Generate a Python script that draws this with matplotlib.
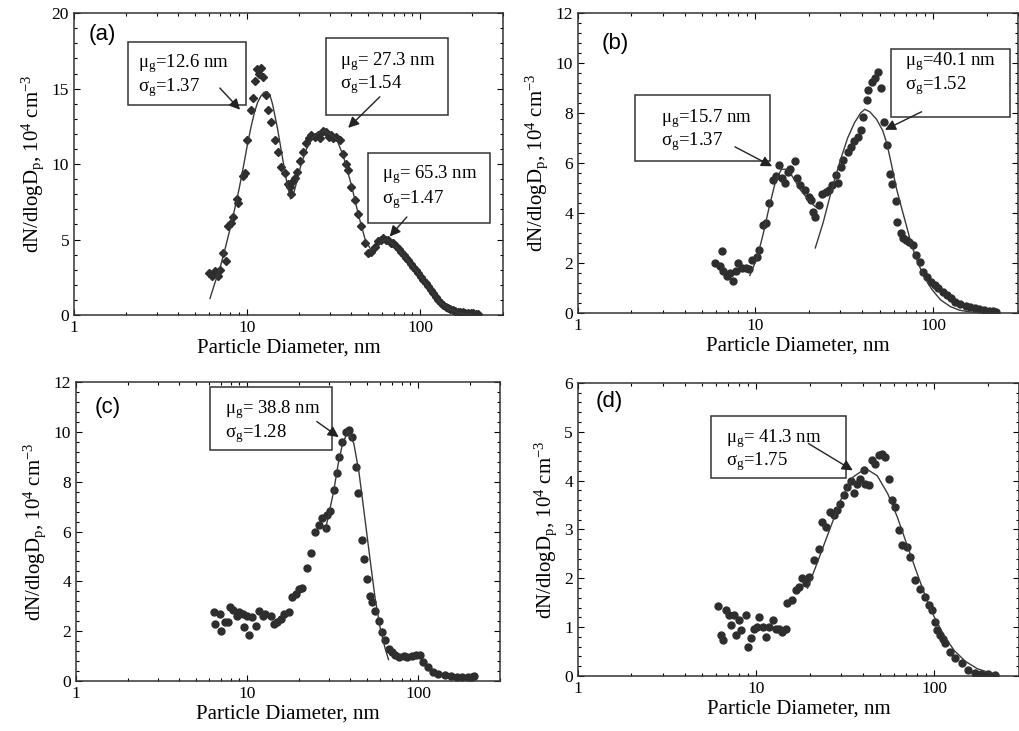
import numpy as np
import matplotlib.pyplot as plt
from matplotlib.patches import Rectangle
from matplotlib.ticker import AutoMinorLocator, LogLocator, NullFormatter

plt.rcParams['font.family'] = ['Liberation Serif', 'DejaVu Serif']
plt.rcParams['mathtext.fontset'] = 'custom'
plt.rcParams['mathtext.rm'] = 'Liberation Serif'
plt.rcParams['mathtext.it'] = 'Liberation Serif:italic'

# ---- panel (a): measured points and three-mode fit ----
a_x = [6.0, 6.3, 6.5, 6.8, 7.0, 7.3, 7.5, 7.8, 8.1, 8.3, 8.7, 8.9, 9.4, 9.7, 10.0,
       10.5, 10.8, 11.1, 11.4, 11.7, 12.0, 12.4, 12.8, 13.2, 13.8, 14.4, 15.0, 15.7,
       16.5, 17.2, 17.7, 18.0, 18.4, 19.0, 19.5, 20.2, 20.9, 21.9, 22.8, 23.5, 24.5,
       25.5, 26.5, 27.5, 28.5, 29.5, 30.5, 31.5, 32.7, 34.2, 35.8, 37.0, 38.2, 40.0,
       41.7, 43.5, 45.6, 47.7, 49.9, 52.2, 54.6, 57.0, 59.0, 61.0, 63.0, 65.3, 67.5,
       69.9, 72.3, 74.8, 77.4, 80.0, 82.5, 85.0, 88.0, 90.9, 94.0, 97.0, 100.5, 104,
       107.5, 111, 115, 119, 123, 127, 131, 135, 140, 144, 149, 154, 159, 165, 170,
       176, 182, 188, 195, 202, 209, 216]
a_y = [2.8, 2.6, 2.9, 2.6, 3.0, 4.1, 3.6, 5.9, 6.1, 6.5, 7.7, 7.4, 9.2, 9.4, 11.6,
       13.6, 14.4, 15.5, 16.3, 16.0, 16.4, 15.8, 14.6, 13.6, 12.8, 11.6, 10.8, 9.8,
       9.4, 8.7, 8.5, 8.0, 8.9, 9.1, 9.5, 10.2, 10.8, 11.4, 11.7, 11.9, 11.8,
       11.9, 11.7, 12.2, 12.1, 11.8, 11.9, 11.7, 11.8, 11.6, 10.7, 10.0, 9.6, 8.5,
       7.6, 6.7, 5.9, 4.8, 4.1, 4.2, 4.5, 4.9, 5.0, 5.1, 5.0, 5.0, 4.8,
       4.75, 4.6, 4.4, 4.2, 4.0, 3.8, 3.65, 3.4, 3.2, 3.0, 2.8, 2.5, 2.3,
       2.1, 1.9, 1.65, 1.45, 1.2, 1.0, 0.8, 0.66, 0.52, 0.44, 0.38, 0.33, 0.27, 0.22, 0.2,
       0.17, 0.15, 0.14, 0.12, 0.12, 0.1, 0.1]
a_fit_x = [6.1, 6.5, 7, 7.5, 8, 8.5, 9, 9.5, 10, 10.5, 11, 11.5, 12, 12.5, 13, 13.5,
           14, 15, 16, 17, 17.8, 18.5, 19.5, 20.5, 22, 24, 26, 28, 30, 33, 36, 40,
           44, 48, 52, 56, 60, 64, 68, 75, 85, 100, 115, 130, 150, 170, 200]
a_fit_y = [1.1, 2.1, 3.2, 4.5, 5.8, 7.1, 8.4, 9.8, 11.2, 12.4, 13.4, 14.1, 14.5, 14.75,
           14.8, 14.6, 14.0, 12.3, 10.4, 8.7, 7.7, 8.0, 9.0, 10.0, 11.0, 11.8, 12.1,
           12.2, 12.0, 11.6, 10.5, 8.6, 6.6, 5.0, 4.3, 4.5, 4.9, 5.0, 4.8, 4.3, 3.6,
           2.6, 1.6, 0.85, 0.35, 0.12, 0.03]

# ---- panel (b) ----
b_x = [5.9, 6.3, 6.5, 6.6, 6.9, 7.2, 7.5, 7.8, 8.0, 8.4, 8.8, 9.2, 9.6, 10.2, 10.5,
       11.0, 11.4, 11.9, 12.5, 13.0, 13.6, 14.1, 14.6, 15.2, 15.7, 16.6, 17.2, 17.8,
       19.0, 19.9, 20.5, 21.2, 21.7, 22.7, 23.6, 24.8, 25.9, 27.1, 28.3, 29.0, 30.3,
       30.9, 33.0, 34.6, 36.0, 37.8, 39.4, 40.3, 42.2, 43.1, 45.1, 47.1, 49.2, 50.8,
       52.6, 55.0, 57.5, 58.8, 61.4, 62.8, 65.6, 68.0, 70.1, 73.0, 76.7, 80.2, 83.8,
       87.6, 92.0, 97.7, 102, 106.9, 113, 119.4, 126, 133.4, 142, 152, 162, 172, 182,
       193, 205, 216, 226]
b_y = [2.0, 1.87, 2.47, 1.67, 1.47, 1.6, 1.27, 1.67, 2.0, 1.8, 1.8, 1.75, 2.1, 2.25, 2.52,
       3.5, 3.59, 4.39, 5.32, 5.5, 5.92, 5.4, 5.19, 5.65, 5.75, 6.09, 5.4, 5.12,
       4.92, 4.65, 4.5, 4.05, 3.85, 4.32, 4.75, 4.85, 4.92, 5.12, 5.52, 5.2, 5.85,
       6.12, 6.45, 6.65, 6.9, 7.05, 7.32, 7.85, 8.52, 8.92, 9.25, 9.39, 9.65, 8.99,
       7.65, 6.72, 5.56, 5.17, 4.48, 3.65, 3.19, 3.0, 2.92, 2.85, 2.73, 2.32, 2.05,
       1.65, 1.45, 1.25, 1.1, 0.99, 0.85, 0.72, 0.58, 0.45, 0.36, 0.28, 0.22, 0.18, 0.15,
       0.12, 0.09, 0.07, 0.05]
b_fit1_x = [9.3, 10.2, 11, 12, 13, 14, 15, 16, 17, 18, 19.5, 21, 21.7]
b_fit1_y = [1.5, 2.2, 3.1, 4.3, 5.3, 5.75, 5.75, 5.5, 5.2, 4.9, 4.6, 4.35, 4.25]
b_fit2_x = [21.7, 24, 27, 30, 33, 36, 39, 41.2, 44, 48, 52, 55, 58, 62, 67, 70, 75,
            80, 88, 98, 110, 125, 140, 160, 180]
b_fit2_y = [2.6, 3.6, 5.0, 6.1, 7.0, 7.6, 8.0, 8.15, 8.05, 7.75, 7.3, 6.75, 6.0, 5.0,
            4.1, 3.6, 2.8, 2.2, 1.5, 0.95, 0.52, 0.25, 0.11, 0.04, 0.01]

# ---- panel (c) ----
c_x = [6.4, 6.5, 6.9, 7.0, 7.4, 7.7, 7.9, 8.3, 8.7, 9.0, 9.4, 9.6, 10.0, 10.3, 10.7,
       11.2, 11.7, 12.3, 12.8, 13.7, 14.3, 15.0, 15.7, 16.4, 17.5, 18.3, 19.2, 20.1,
       21.0, 22.4, 23.5, 24.9, 26.2, 27.4, 28.7, 29.3, 30.6, 32.0, 33.5, 34.3, 35.9,
       37.6, 39.3, 41.2, 43.1, 44.7, 47.0, 48.2, 50.0, 51.9, 53.5, 56.0, 58.6, 61.2,
       64.0, 67.0, 70.0, 73.3, 76.7, 82, 86, 92, 97.5, 101.9, 106.6, 114, 122, 131,
       143, 156, 168, 181, 195, 205, 213]
c_y = [2.75, 2.29, 2.7, 2.0, 2.35, 2.35, 2.95, 2.85, 2.6, 2.75, 2.7, 2.15, 2.6, 1.82,
       2.55, 2.22, 2.82, 2.62, 2.7, 2.62, 2.29, 2.35, 2.5, 2.7, 2.75, 3.35, 3.5, 3.7,
       3.75, 4.55, 5.15, 6.0, 6.28, 6.54, 6.14, 6.68, 6.81, 7.67, 8.34, 9.0, 9.6,
       10.0, 10.07, 9.8, 8.6, 7.54, 5.68, 4.88, 4.08, 3.42, 3.15, 2.82, 2.42, 1.95,
       1.62, 1.29, 1.16, 1.02, 0.96, 0.98, 0.96, 1.0, 1.02, 1.02, 0.76, 0.56, 0.36, 0.27,
       0.23, 0.17, 0.15, 0.13, 0.14, 0.16, 0.18]
c_fit_x = [28.5, 30, 32, 34, 36, 38.8, 42, 45, 48, 52, 56, 60, 64, 67]
c_fit_y = [6.0, 6.7, 7.6, 8.7, 9.5, 10.05, 9.55, 8.4, 6.9, 5.0, 3.3, 2.1, 1.3, 0.85]

# ---- panel (d) ----
d_x = [6.11, 6.37, 6.51, 6.8, 7.1, 7.24, 7.57, 7.73, 8.07, 8.25, 8.79, 8.98, 9.38, 9.79,
       10.2, 10.4, 10.9, 11.4, 11.9, 12.4, 12.9, 13.5, 14.1, 14.7, 15.0, 16.0, 16.7,
       17.5, 18.2, 19.0, 19.9, 21.2, 22.6, 23.6, 24.6, 26.2, 27.4, 28.6, 29.8, 31.1,
       32.5, 34.0, 35.4, 37.0, 38.6, 40.3, 41.2, 43.0, 44.9, 46.8, 48.9, 51.0, 53.2,
       55.6, 58.0, 60.6, 63.2, 66.0, 70.3, 73.4, 78.3, 83.5, 89.1, 94, 97, 101, 104,
       108, 112, 115, 122.8, 131, 142.8, 155.6, 169.5, 184.7, 201, 219]
d_y = [1.43, 0.84, 0.74, 1.35, 1.25, 1.04, 1.25, 0.84, 1.15, 0.94, 1.25, 0.6, 0.77, 0.97,
       1.0, 1.21, 1.0, 0.8, 1.0, 1.15, 0.97, 0.97, 0.9, 0.97, 1.49, 1.55, 1.76,
       1.83, 2.0, 1.9, 2.03, 2.37, 2.6, 3.16, 3.05, 3.36, 3.29, 3.4, 3.53, 3.7,
       3.87, 4.0, 3.74, 3.94, 4.04, 4.21, 3.94, 3.9, 4.42, 4.35, 4.52, 4.55, 4.49,
       4.04, 3.6, 3.46, 2.99, 2.68, 2.64, 2.44, 1.96, 1.79, 1.62, 1.45, 1.35, 1.1, 0.95,
       0.85, 0.75, 0.67, 0.5, 0.36, 0.26, 0.12, 0.055, 0.05, 0.04, 0.03]
d_fit_x = [19.5, 22, 25, 30, 35, 41.3, 48, 55, 62, 70, 80, 90, 100, 115, 130, 150, 175,
           200, 230]
d_fit_y = [1.8, 2.3, 2.84, 3.61, 4.07, 4.25, 4.1, 3.73, 3.27, 2.72, 2.12, 1.61, 1.22,
           0.8, 0.52, 0.3, 0.15, 0.08, 0.03]

x_ticks = [1, 10, 100]
x_tick_labels = ['1', '10', '100']

fig = plt.figure(figsize=(10.19, 7.31), dpi=100)
ax_a = fig.add_axes([0.0726, 0.569, 0.421, 0.413])
ax_b = fig.add_axes([0.567, 0.572, 0.432, 0.410])
ax_c = fig.add_axes([0.0746, 0.0688, 0.416, 0.408])
ax_d = fig.add_axes([0.567, 0.0752, 0.433, 0.401])

pt_color = '#2e2e2e'
line_color = '#3a3a3a'


def setup(ax, ymax, ystep, label, lx, ly):
    ax.set_xscale('log')
    ax.set_xlim(1, 300)
    ax.set_ylim(0, ymax)
    ax.set_xticks(x_ticks)
    ax.set_xticklabels(x_tick_labels)
    ax.xaxis.set_minor_locator(LogLocator(base=10, subs=np.arange(2, 10)))
    ax.xaxis.set_minor_formatter(NullFormatter())
    ax.set_yticks(np.arange(0, ymax + 0.01, ystep))
    ax.yaxis.set_minor_locator(AutoMinorLocator(5))
    ax.tick_params(which='both', direction='in', top=True, right=True,
                   labelsize=12.5, width=0.8)
    ax.tick_params(which='major', length=4)
    ax.tick_params(which='minor', length=2)
    for s in ax.spines.values():
        s.set_linewidth(1.1)
        s.set_color('#333333')
    ax.set_xlabel('Particle Diameter, nm', fontsize=15, labelpad=2)
    ax.set_ylabel('dN/dlogD$_\\mathrm{p}$, 10$^4$ cm$^{-3}$', fontsize=15, labelpad=4)
    ax.text(lx, ly, label, transform=ax.transAxes, fontsize=16,
            family='Liberation Sans', va='center', ha='left')


def note(ax, box, text_xy, mu, sigma, tail, tip):
    x0, y0, x1, y1 = box
    ax.add_patch(Rectangle((x0, y0), x1 - x0, y1 - y0, transform=ax.transAxes,
                           facecolor='white', edgecolor='#333333', lw=1.1, zorder=4))
    tx, ty1, ty2 = text_xy
    ax.text(tx, ty1, 'μ$_\\mathrm{g}$' + mu, transform=ax.transAxes, fontsize=13.5,
            va='center', ha='left', zorder=5)
    ax.text(tx, ty2, 'σ$_\\mathrm{g}$' + sigma, transform=ax.transAxes, fontsize=13.5,
            va='center', ha='left', zorder=5)
    ax.annotate('', xy=tip, xycoords='data', xytext=tail, textcoords='axes fraction',
                arrowprops=dict(arrowstyle='-|>', color='#222222', lw=1.0,
                                mutation_scale=16, shrinkA=0, shrinkB=0), zorder=6)


# (a)
ax_a.plot(a_x, a_y, 'D', color=pt_color, markersize=4.5, zorder=2)
ax_a.plot(a_fit_x, a_fit_y, '-', color=line_color, lw=1.0, zorder=3)
setup(ax_a, 20, 5, '(a)', 0.035, 0.93)
note(ax_a, (0.126, 0.695, 0.401, 0.904), (0.149, 0.834, 0.752), '=12.6 nm', '=1.37',
     (0.340, 0.752), (9.1, 13.6))
note(ax_a, (0.587, 0.662, 0.872, 0.917), (0.620, 0.839, 0.762), '= 27.3 nm', '=1.54',
     (0.713, 0.723), (38.3, 12.4))
note(ax_a, (0.685, 0.305, 0.970, 0.536), (0.717, 0.464, 0.381), '= 65.3 nm', '=1.47',
     (0.776, 0.325), (66.5, 5.2))

# (b)
ax_b.plot(b_x, b_y, 'o', color=pt_color, markersize=5, zorder=2)
ax_b.plot(b_fit1_x, b_fit1_y, '-', color=line_color, lw=1.0, zorder=3)
ax_b.plot(b_fit2_x, b_fit2_y, '-', color=line_color, lw=1.0, zorder=3)
setup(ax_b, 12, 2, '(b)', 0.055, 0.90)
note(ax_b, (0.130, 0.508, 0.436, 0.727), (0.190, 0.649, 0.571), '=15.7 nm', '=1.37',
     (0.357, 0.554), (12.4, 5.87))
note(ax_b, (0.712, 0.652, 0.981, 0.882), (0.743, 0.838, 0.760), '=40.1 nm', '=1.52',
     (0.781, 0.671), (53.5, 7.33))

# (c)
ax_c.plot(c_x, c_y, 'o', color=pt_color, markersize=5, zorder=2)
ax_c.plot(c_fit_x, c_fit_y, '-', color=line_color, lw=1.0, zorder=3)
setup(ax_c, 12, 2, '(c)', 0.045, 0.915)
note(ax_c, (0.316, 0.772, 0.604, 0.985), (0.351, 0.908, 0.830), '= 38.8 nm', '=1.28',
     (0.568, 0.869), (34.3, 9.8))

# (d)
ax_d.plot(d_x, d_y, 'o', color=pt_color, markersize=5, zorder=2)
ax_d.plot(d_fit_x, d_fit_y, '-', color=line_color, lw=1.0, zorder=3)
setup(ax_d, 6, 1, '(d)', 0.04, 0.935)
note(ax_d, (0.303, 0.674, 0.609, 0.886), (0.335, 0.810, 0.731), '= 41.3 nm', '=1.75',
     (0.523, 0.793), (35.0, 4.21))

fig.savefig('out.png', dpi=100)
